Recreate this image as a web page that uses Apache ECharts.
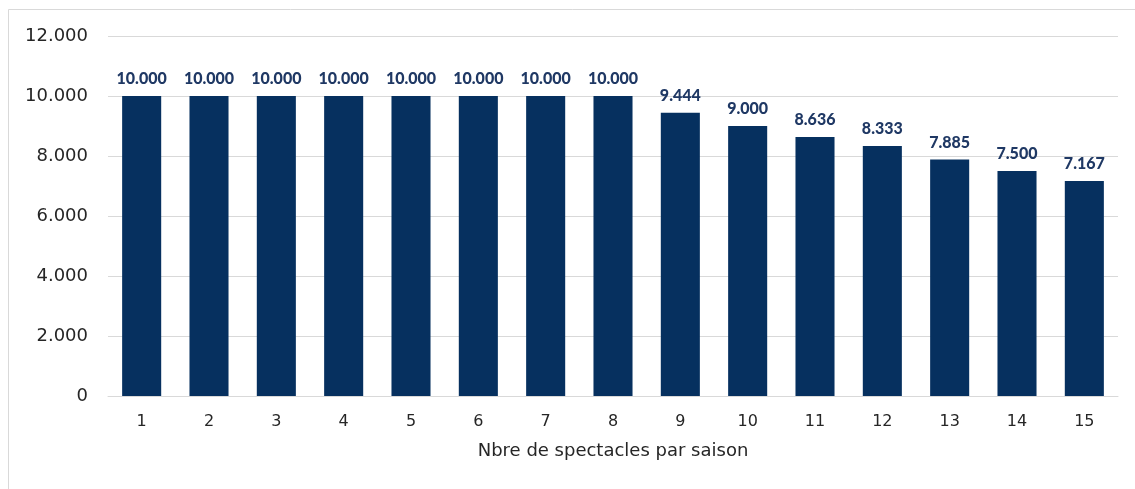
<!DOCTYPE html>
<html>
<head>
<meta charset="utf-8">
<script src="https://cdn.jsdelivr.net/npm/echarts@6/dist/echarts.min.js"></script>
<style>
html,body{margin:0;padding:0;background:#fff;}
#chart{width:1135px;height:489px;}
</style>
</head>
<body>
<div id="chart"></div>
<script>
// Number of shows per season and the corresponding value
const categories = ['1','2','3','4','5','6','7','8','9','10','11','12','13','14','15'];
const values = [10000,10000,10000,10000,10000,10000,10000,10000,9444,9000,8636,8333,7885,7500,7167];
const yTicks = [0,2000,4000,6000,8000,10000,12000];
const xAxisTitle = 'Nbre de spectacles par saison';

// Thousands separator as a dot
const fmt = v => String(Math.round(v)).replace(/\B(?=(\d{3})+(?!\d))/g, '.');

const FONT = '"DejaVu Sans", sans-serif';
const LABEL_FONT = 'Lato, sans-serif';
const NAVY = '#06305F';

const chart = echarts.init(document.getElementById('chart'));
chart.setOption({
  animation: false,
  backgroundColor: '#fff',
  graphic: [{
    type: 'rect',
    shape: { x: 8.5, y: 9.5, width: 1140, height: 500 },
    style: { fill: 'none', stroke: '#d9d9d9', lineWidth: 1 },
    silent: true,
    z: -1
  }],
  grid: { left: 108, right: 17, top: 36, bottom: 93, containLabel: false },
  xAxis: {
    type: 'category',
    data: categories,
    name: xAxisTitle,
    nameLocation: 'middle',
    nameGap: 46,
    nameTextStyle: { fontFamily: FONT, fontSize: 18, color: '#262626' },
    axisLine: { lineStyle: { color: '#d9d9d9', width: 1 } },
    axisTick: { show: false },
    axisLabel: { fontFamily: FONT, fontSize: 16, color: '#262626', margin: 18 }
  },
  yAxis: {
    type: 'value',
    min: yTicks[0],
    max: yTicks[yTicks.length - 1],
    interval: yTicks[1] - yTicks[0],
    axisLine: { show: false },
    axisTick: { show: false },
    splitLine: { lineStyle: { color: '#d9d9d9', width: 1 } },
    axisLabel: { fontFamily: FONT, fontSize: 18, color: '#262626', margin: 20, formatter: fmt }
  },
  series: [{
    type: 'bar',
    data: values,
    barWidth: '58%',
    itemStyle: { color: NAVY },
    label: {
      show: true,
      position: 'top',
      distance: 9,
      formatter: p => fmt(p.value),
      fontFamily: LABEL_FONT,
      fontSize: 16,
      fontWeight: 900,
      color: '#1F3864'
    }
  }]
});
</script>
</body>
</html>
